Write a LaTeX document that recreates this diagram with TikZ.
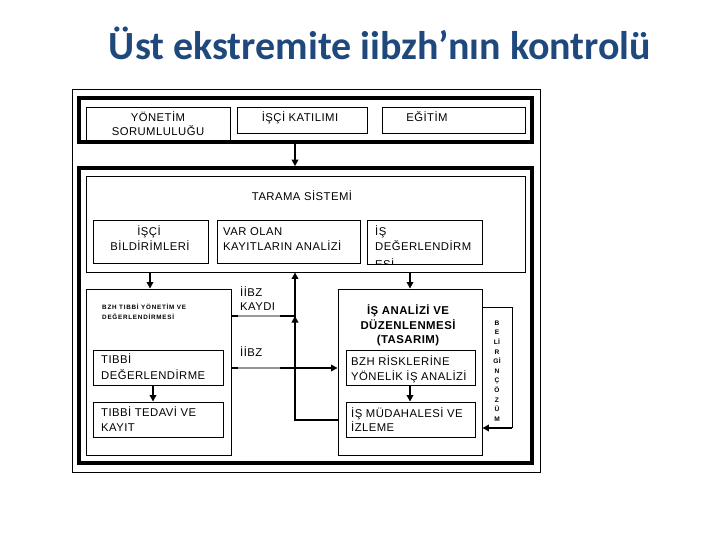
\documentclass[tikz,border=0pt]{standalone}
\usepackage{fontspec}
\setmainfont[LetterSpace=4]{Liberation Sans}
\newfontfamily\titlefont{Carlito}
\newfontfamily\tinyfont[LetterSpace=12]{Liberation Sans}
\usetikzlibrary{arrows.meta,fit}
\definecolor{titleblue}{HTML}{1F497D}
\begin{document}
\begin{tikzpicture}[x=1pt,y=-1pt,
  box/.style={draw, line width=0.9pt, inner sep=0pt},
  frame/.style={draw, line width=3.6pt, inner sep=0pt},
  thinframe/.style={draw, line width=1pt, inner sep=0pt},
  txt/.style={font=\fontsize{11.3}{13}\selectfont, inner sep=0pt},
  btxt/.style={font=\fontsize{11.4}{13}\selectfont\bfseries, inner sep=0pt},
  stxt/.style={font=\fontsize{6.3}{8}\selectfont\tinyfont\bfseries, inner sep=0pt},
  conn/.style={line width=2pt},
  tri/.style={-{Triangle[length=6.5pt,width=6.5pt]}},
  graymid/.style={draw=gray!85, line width=2pt}
]
\useasboundingbox (0,0) rectangle (720,540);
% title
\node[font=\fontsize{40}{44}\selectfont\titlefont\bfseries, text=titleblue, inner sep=0pt, anchor=base] (title) at (380,60) {Üst ekstremite iibzh’nın kontrolü};
% frames
\node[thinframe, fit={(72,90) (540,472)}] (outer) {};
\node[frame, fit={(79,98) (532,142)}] (fr1) {};
\node[frame, fit={(79,168) (532,463)}] (fr2) {};
% top boxes
\node[box, fill=white, fit={(86,107) (230,140)}] (yon) {};
\node[box, fit={(237,107) (367,133)}] (isci) {};
\node[box, fit={(382,107) (525,133)}] (egit) {};
% tarama
\node[box, fit={(86,176) (525,272)}] (tarama) {};
\node[box, fit={(93,220) (208,263)}] (bild) {};
\node[box, fit={(217,220) (360,263)}] (varolan) {};
\begin{scope}
\clip (367,220) rectangle (482,264);
\node[txt, anchor=base west] (isdeg3) at (375,268) {ESİ};
\end{scope}
\node[box, fit={(367,220) (482,264)}] (isdeg) {};
% lower left
\node[box, fit={(86,289) (231,455)}] (bzh) {};
\node[box, fit={(93,350) (223,385)}] (tdeg) {};
\node[box, fit={(93,402) (223,437)}] (ttedavi) {};
% lower right
\node[box, fit={(338,289) (482,455)}] (isan) {};
\node[box, fit={(346,350) (475,385)}] (risk) {};
\node[box, fit={(346,402) (475,437)}] (mudah) {};
% texts
\node[txt, anchor=base] (t1a) at (158,122) {YÖNETİM};
\node[txt, anchor=base] (t1b) at (158,136) {SORUMLULUĞU};
\node[txt, anchor=base] (t2) at (300,122) {İŞÇİ KATILIMI};
\node[txt, anchor=base] (t3) at (427,122) {EĞİTİM};
\node[txt, anchor=base] (t4) at (302,201) {TARAMA SİSTEMİ};
\node[txt, anchor=base] (t5a) at (149,236) {İŞÇİ};
\node[txt, anchor=base] (t5b) at (150,251) {BİLDİRİMLERİ};
\node[txt, anchor=base west] (t6a) at (223,236) {VAR OLAN};
\node[txt, anchor=base west] (t6b) at (223,251) {KAYITLARIN ANALİZİ};
\node[txt, anchor=base west] (t7a) at (375,236) {İŞ};
\node[txt, anchor=base west] (t7b) at (375,251) {DEĞERLENDİRM};
\node[stxt, anchor=base west] (t8a) at (102,309) {BZH TIBBİ YÖNETİM VE};
\node[stxt, anchor=base west] (t8b) at (102,319) {DEĞERLENDİRMESİ};
\node[txt, anchor=base west] (t9a) at (101,363) {TIBBİ};
\node[txt, anchor=base west] (t9b) at (101,379) {DEĞERLENDİRME};
\node[txt, anchor=base west] (t10a) at (101,416) {TIBBİ TEDAVİ VE};
\node[txt, anchor=base west] (t10b) at (101,431) {KAYIT};
\node[txt, anchor=base west] (t11a) at (240,296) {İİBZ};
\node[txt, anchor=base west] (t11b) at (240,310) {KAYDI};
\node[txt, anchor=base west] (t12) at (240,356) {İİBZ};
\node[btxt, anchor=base] (t13a) at (408,314) {İŞ ANALİZİ VE};
\node[btxt, anchor=base] (t13b) at (408,329) {DÜZENLENMESİ};
\node[btxt, anchor=base] (t13c) at (408,343) {(TASARIM)};
\node[txt, anchor=base west] (t14a) at (351,365) {BZH RİSKLERİNE};
\node[txt, anchor=base west] (t14b) at (351,380) {YÖNELİK İŞ ANALİZİ};
\node[txt, anchor=base west] (t15a) at (351,417) {İŞ MÜDAHALESİ VE};
\node[txt, anchor=base west] (t15b) at (351,431) {İZLEME};
\node[font=\fontsize{6.6}{9.6}\selectfont\bfseries, align=center, inner sep=0pt] (belirgin) at (497,371)
  {B\\E\\Lİ\\R\\Gİ\\N\\Ç\\Ö\\Z\\Ü\\M};
% helper coordinates
\coordinate (cx) at (295,0);
\coordinate (cl) at (150,0);
\coordinate (ct) at (153,0);
\coordinate (cr) at (410,0);
\coordinate (cb) at (512,0);
\coordinate (y307) at (0,307);
\coordinate (y316) at (0,316);
\coordinate (y332) at (0,332);
\coordinate (y368) at (0,368);
\coordinate (y420) at (0,420);
\coordinate (y428) at (0,428);
% connectors
\draw[conn, tri] (fr1.south -| cx) -- (fr2.north -| cx);
\draw[conn, tri] (tarama.south -| cl) -- (bzh.north -| cl);
\draw[conn, tri] (tarama.south -| cr) -- (isan.north -| cr);
\draw[conn, tri] (isan.west |- y420) -| (tarama.south -| cx);
\draw[conn, tri] (cx |- y332) -- (cx |- y316);
\draw[line width=1.3pt] (bzh.east |- y316) -- (cx |- y316);
\draw[draw=gray!80, line width=1.3pt] (238,316) -- (280,316);
\draw[conn, tri] (bzh.east |- y368) -- (isan.west |- y368);
\draw[graymid] (238,368) -- (280,368);
\draw[conn, tri] (tdeg.south -| ct) -- (ttedavi.north -| ct);
\draw[conn, tri] (risk.south -| cr) -- (mudah.north -| cr);
\draw[line width=1pt] (isan.east |- y307) -| (cb |- y428);
\draw[conn, tri] (cb |- y428) -- (isan.east |- y428);
\end{tikzpicture}
\end{document}
